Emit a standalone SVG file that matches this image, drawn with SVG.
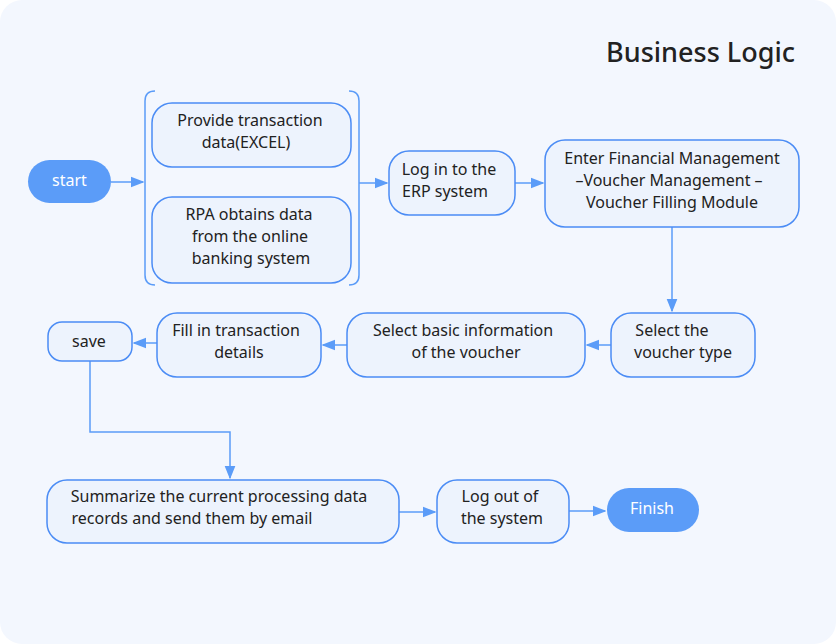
<svg xmlns="http://www.w3.org/2000/svg" width="836" height="644" viewBox="0 0 836 644">
<defs>
<style>
.n{fill:#edf3fd;stroke:#4b8cf5;stroke-width:1.5}
.t{font-family:"Noto Sans","Liberation Sans",sans-serif;font-size:16px;fill:#222;text-anchor:middle}
.w{fill:#fff}
.c{fill:none;stroke:#5b9cf8;stroke-width:1.5}
</style>
<marker id="a" viewBox="0 0 10 10" refX="9" refY="5" markerWidth="9" markerHeight="9" orient="auto"><path d="M0,1 L10,5 L0,9 z" fill="#5b9cf8"/></marker>
</defs>
<rect x="0" y="0" width="836" height="644" rx="22" fill="#f3f7fe"/>
<text x="795" y="62" style="font-family:'Noto Sans','Liberation Sans',sans-serif;font-size:27px;fill:#222;text-anchor:end;font-weight:500">Business Logic</text>
<g id="connectors">
<path class="c" d="M111,182 H143" marker-end="url(#a)"/>
<path class="c" d="M359,183 H387" marker-end="url(#a)"/>
<path class="c" d="M515,183 H543" marker-end="url(#a)"/>
<path class="c" d="M672,227 V311" marker-end="url(#a)"/>
<path class="c" d="M611,345 H587" marker-end="url(#a)"/>
<path class="c" d="M347,345 H323" marker-end="url(#a)"/>
<path class="c" d="M157,343 H134" marker-end="url(#a)"/>
<path class="c" d="M90,361 V432 H230 V478" marker-end="url(#a)"/>
<path class="c" d="M399,512 H435" marker-end="url(#a)"/>
<path class="c" d="M569,511 H605" marker-end="url(#a)"/>
</g>
<g id="start"><rect x="28" y="160" width="83" height="43" rx="21.5" fill="#5b9cf8"/><text class="t w" x="69.5" y="186">start</text></g>
<g id="bracket"><path class="c" d="M155,91 Q145,91 145,101 V275 Q145,285 155,285 M349,91 Q359,91 359,101 V275 Q359,285 349,285" stroke="#4b8cf5"/></g>
<g id="provide"><rect class="n" x="152" y="103" width="199" height="64" rx="20"/><text class="t" x="250" y="126">Provide transaction</text><text class="t" x="246" y="148">data(EXCEL)</text></g>
<g id="rpa"><rect class="n" x="152" y="197" width="199" height="86" rx="20"/><text class="t" x="249" y="220">RPA obtains data</text><text class="t" x="250" y="242">from the online</text><text class="t" x="251" y="264">banking system</text></g>
<g id="login"><rect class="n" x="389" y="151" width="126" height="64" rx="20"/><text class="t" x="449" y="175">Log in to the</text><text class="t" x="445" y="197">ERP system</text></g>
<g id="enter"><rect class="n" x="545" y="140" width="254" height="87" rx="20"/><text class="t" x="672" y="164">Enter Financial Management</text><text class="t" x="669" y="186">–Voucher Management –</text><text class="t" x="672" y="208">Voucher Filling Module</text></g>
<g id="vtype"><rect class="n" x="611" y="313" width="144" height="64" rx="20"/><text class="t" x="672" y="336">Select the</text><text class="t" x="683" y="358">voucher type</text></g>
<g id="basic"><rect class="n" x="347" y="313" width="238" height="64" rx="20"/><text class="t" x="463" y="336">Select basic information</text><text class="t" x="466" y="358">of the voucher</text></g>
<g id="fill"><rect class="n" x="157" y="313" width="164" height="64" rx="20"/><text class="t" x="236" y="336">Fill in transaction</text><text class="t" x="239" y="358">details</text></g>
<g id="save"><rect class="n" x="48" y="322" width="84" height="39" rx="14"/><text class="t" x="89" y="347">save</text></g>
<g id="summarize"><rect class="n" x="47" y="480" width="352" height="63" rx="20"/><text class="t" x="219" y="502">Summarize the current processing data</text><text class="t" x="192" y="524">records and send them by email</text></g>
<g id="logout"><rect class="n" x="437" y="480" width="132" height="63" rx="20"/><text class="t" x="500" y="502">Log out of</text><text class="t" x="502" y="524">the system</text></g>
<g id="finish"><rect x="607" y="488" width="92" height="44" rx="22" fill="#5b9cf8"/><text class="t w" x="652" y="514">Finish</text></g>
</svg>
